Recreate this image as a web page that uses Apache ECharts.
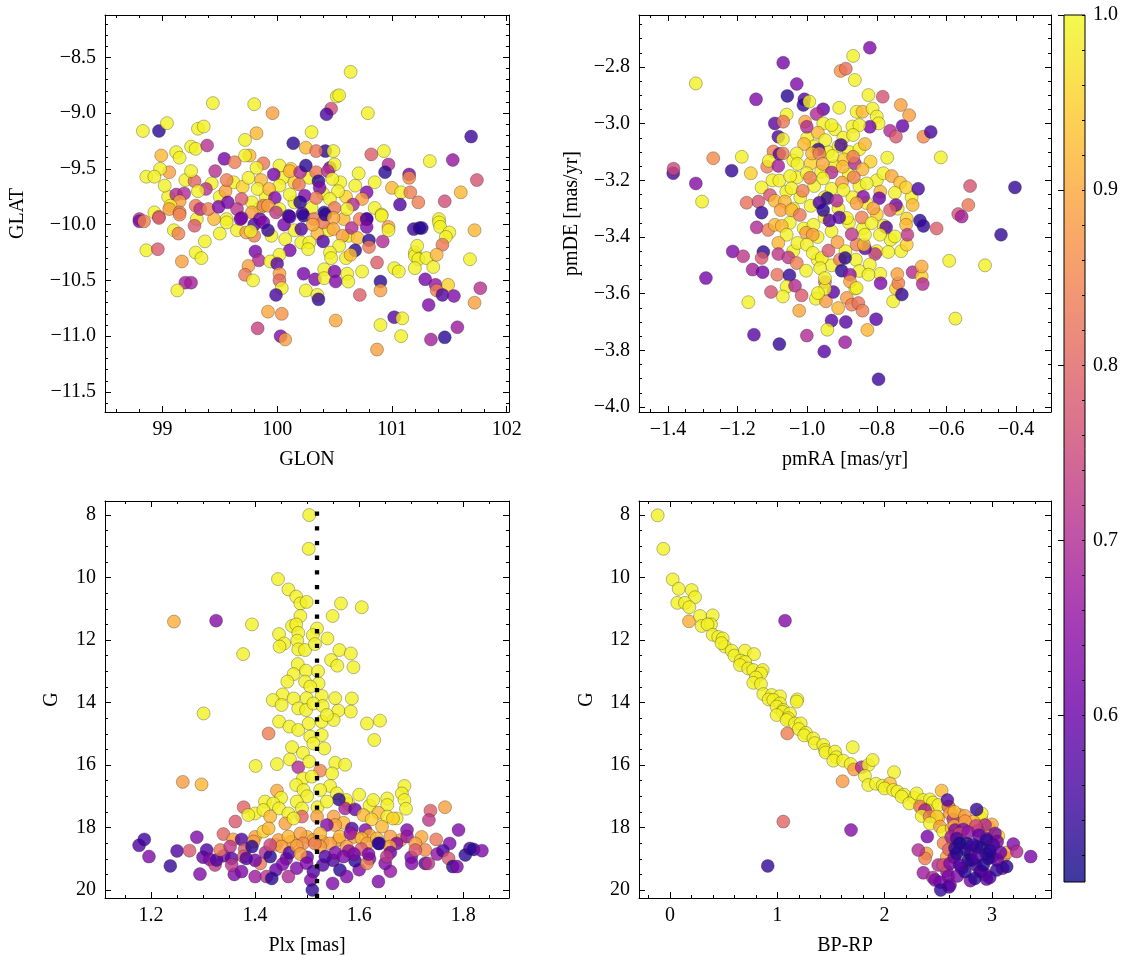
<!DOCTYPE html>
<html>
<head>
<meta charset="utf-8">
<script src="https://cdn.jsdelivr.net/npm/echarts@6/dist/echarts.min.js"></script>
<style>html,body{margin:0;padding:0;background:#fff;}#c{width:1133px;height:965px;}</style>
</head>
<body>
<div id="c"></div>
<script>
// ---------------- DATA: [x, y, membership probability] ----------------
const GLON_GLAT = [
[99.62,-9.62,0.99],[99.70,-9.66,0.95],[99.75,-9.58,0.99],[99.86,-9.60,0.92],[99.90,-9.75,0.99],[100.05,-9.58,0.99],
[100.15,-9.62,0.95],[100.28,-9.58,0.99],[100.40,-9.72,0.99],[100.55,-9.62,0.99],[100.60,-9.75,0.95],[100.68,-9.65,0.99],
[100.58,-9.95,0.92],[100.45,-10.05,0.99],[100.35,-10.08,0.92],[100.15,-10.05,0.99],[99.95,-10.10,0.99],[99.65,-10.05,0.99],
[99.50,-10.08,0.99],[99.45,-9.95,0.92],[99.50,-9.75,0.99],[99.85,-9.85,0.99],[100.15,-9.80,0.99],[100.30,-9.85,0.99],
[100.62,-10.10,0.99],[100.85,-9.85,0.99],[100.85,-9.62,0.99],[99.30,-9.95,0.99],[99.20,-9.60,0.99],[99.05,-9.75,0.99],
[100.64,-8.63,0.99],[100.52,-8.85,0.99],[100.54,-8.84,0.99],[100.47,-8.96,0.76],[100.43,-9.01,0.56],[100.79,-9.00,0.99],
[99.44,-8.91,0.99],[99.80,-8.92,0.99],[99.96,-9.00,0.89],[98.83,-9.16,0.99],[98.97,-9.16,0.53],[99.04,-9.09,0.99],
[99.31,-9.14,0.99],[99.36,-9.12,0.99],[99.82,-9.18,0.92],[100.30,-9.17,0.99],[99.72,-9.24,0.99],[100.14,-9.27,0.53],
[100.25,-9.31,0.92],[100.42,-9.34,0.53],[100.49,-9.34,0.99],[100.34,-9.34,0.83],[101.69,-9.21,0.55],[101.53,-9.42,0.66],
[101.33,-9.43,0.99],[101.74,-9.60,0.77],[100.93,-9.34,0.99],[100.82,-9.37,0.79],[100.97,-9.46,0.70],[100.94,-9.53,0.53],
[101.15,-9.55,0.62],[101.15,-9.58,0.86],[100.71,-9.54,0.99],[101.00,-9.67,0.92],[101.08,-9.71,0.99],[101.16,-9.71,0.84],
[101.23,-9.80,0.84],[101.07,-9.82,0.57],[101.46,-9.79,0.76],[101.60,-9.71,0.92],[101.41,-9.95,0.99],[100.91,-9.91,0.99],
[100.78,-9.71,0.63],[100.74,-9.77,0.89],[100.66,-9.82,0.70],[100.78,-9.95,0.57],[98.99,-9.38,0.92],[99.12,-9.35,0.99],
[99.15,-9.40,0.99],[99.25,-9.30,0.99],[99.29,-9.32,0.99],[99.39,-9.29,0.71],[99.54,-9.41,0.62],[99.63,-9.44,0.84],
[99.76,-9.38,0.92],[99.72,-9.38,0.99],[99.88,-9.45,0.83],[99.82,-9.49,0.99],[100.02,-9.47,0.99],[100.12,-9.50,0.95],
[100.11,-9.52,0.92],[99.97,-9.55,0.62],[100.20,-9.53,0.70],[100.25,-9.47,0.53],[100.34,-9.53,0.83],[100.46,-9.49,0.62],
[100.50,-9.46,0.99],[100.44,-9.52,0.71],[100.36,-9.61,0.53],[100.37,-9.67,0.63],[100.48,-9.59,0.99],[100.53,-9.70,0.99],
[100.19,-9.64,0.83],[100.02,-9.65,0.99],[99.83,-9.68,0.99],[99.93,-9.68,0.92],[100.11,-9.73,0.99],[100.24,-9.74,0.63],
[100.34,-9.76,0.83],[100.46,-9.77,0.99],[99.98,-9.76,0.63],[100.20,-9.80,0.53],[99.78,-9.80,0.99],[99.69,-9.77,0.78],
[99.55,-9.70,0.89],[99.56,-9.60,0.84],[99.46,-9.52,0.71],[99.43,-9.63,0.99],[99.38,-9.68,0.71],[99.28,-9.61,0.80],
[99.31,-9.70,0.99],[99.25,-9.52,0.99],[99.06,-9.53,0.89],[98.98,-9.50,0.99],[98.86,-9.57,0.99],[98.93,-9.57,0.99],
[99.02,-9.65,0.99],[99.12,-9.73,0.70],[99.19,-9.72,0.70],[99.15,-9.79,0.89],[99.07,-9.83,0.99],[99.29,-9.83,0.83],
[99.33,-9.86,0.71],[99.40,-9.86,0.84],[99.49,-9.84,0.63],[99.57,-9.80,0.62],[99.65,-9.86,0.72],[99.78,-9.89,0.89],
[99.88,-9.83,0.83],[99.92,-9.83,0.89],[100.02,-9.86,0.99],[100.10,-9.92,0.53],[100.22,-9.90,0.57],[100.41,-9.89,0.53],
[100.50,-9.85,0.83],[100.61,-9.86,0.99],[98.93,-9.89,0.99],[99.06,-9.86,0.89],[99.15,-9.89,0.84],[98.97,-9.93,0.83],
[98.80,-9.95,0.70],[99.56,-9.95,0.99],[99.69,-9.94,0.62],[99.85,-9.95,0.62],
[98.80,-9.97,0.63],[98.84,-9.97,0.85],[98.97,-9.94,0.78],[99.15,-9.91,0.85],[99.28,-10.01,0.78],[99.10,-10.05,0.99],
[99.14,-10.08,0.84],[99.37,-10.15,0.99],[98.86,-10.23,0.99],[98.96,-10.22,0.78],[99.29,-10.25,0.99],[99.34,-10.30,0.99],
[99.17,-10.33,0.89],[99.20,-10.52,0.68],[99.25,-10.52,0.68],[99.13,-10.59,0.99],[99.56,-9.98,0.99],[99.68,-9.95,0.62],
[99.80,-10.00,0.57],[99.88,-9.98,0.63],[99.92,-10.05,0.54],[99.73,-10.07,0.89],[99.80,-10.10,0.84],[99.77,-10.06,0.99],
[99.99,-9.89,0.72],[100.06,-10.00,0.62],[100.11,-9.93,0.57],[100.23,-9.92,0.53],[100.32,-9.95,0.83],[100.40,-9.98,0.83],
[100.42,-9.91,0.53],[100.49,-9.94,0.90],[100.21,-10.04,0.57],[100.31,-10.00,0.90],[100.49,-10.04,0.90],[100.57,-10.10,0.89],
[100.65,-10.03,0.70],[100.72,-9.95,0.84],[100.78,-9.95,0.57],[100.78,-10.02,0.63],[100.70,-10.12,0.93],[100.80,-10.14,0.53],
[100.80,-10.20,0.83],[100.92,-10.15,0.70],[100.91,-9.92,0.99],[100.97,-10.02,0.88],[100.97,-10.05,0.99],[100.07,-10.13,0.99],
[100.21,-10.16,0.99],[100.28,-10.16,0.99],[100.27,-10.22,0.99],[100.40,-10.15,0.57],[100.54,-10.19,0.99],[100.46,-10.25,0.99],
[100.47,-10.30,0.99],[100.60,-10.30,0.99],[100.68,-10.23,0.53],[100.64,-10.27,0.93],[100.11,-10.23,0.62],[100.02,-10.27,0.99],
[99.81,-10.24,0.62],[99.84,-10.32,0.70],[99.94,-10.33,0.99],[100.00,-10.35,0.58],[99.75,-10.37,0.89],[99.72,-10.45,0.83],
[99.79,-10.50,0.99],[100.02,-10.44,0.89],[100.02,-10.50,0.80],[100.04,-10.57,0.99],[99.99,-10.63,0.56],[100.23,-10.44,0.62],
[100.33,-10.49,0.63],[100.25,-10.59,0.99],[100.35,-10.63,0.99],[100.36,-10.67,0.54],[100.41,-10.40,0.99],[100.41,-10.48,0.99],
[100.50,-10.42,0.63],[100.51,-10.51,0.63],[100.61,-10.44,0.99],[100.62,-10.51,0.99],[100.74,-10.42,0.99],[100.87,-10.34,0.79],
[100.90,-10.51,0.53],[100.90,-10.59,0.89],[100.72,-10.63,0.79],[99.92,-10.78,0.90],[100.04,-10.80,0.87],[100.51,-10.86,0.90],
[99.83,-10.93,0.74],[100.03,-11.00,0.63],[100.07,-11.03,0.89],[101.02,-10.39,0.99],[101.06,-10.42,0.99],[101.20,-10.25,0.99],
[101.20,-10.28,0.99],[101.22,-10.19,0.99],[101.23,-10.31,0.99],[101.30,-10.30,0.99],[101.36,-10.38,0.99],[101.20,-10.39,0.99],
[101.19,-10.04,0.55],[101.24,-10.03,0.53],[101.26,-10.03,0.53],[101.41,-9.98,0.99],[101.42,-10.02,0.99],[101.50,-10.07,0.99],
[101.47,-10.11,0.99],[101.44,-10.18,0.83],[101.39,-10.27,0.92],[101.72,-10.05,0.92],[101.68,-10.31,0.99],[101.29,-10.49,0.62],
[101.38,-10.54,0.66],[101.39,-10.59,0.84],[101.49,-10.54,0.95],[101.44,-10.63,0.57],[101.54,-10.64,0.63],[101.77,-10.57,0.71],
[101.72,-10.70,0.89],[101.32,-10.72,0.63],[101.02,-10.83,0.58],[101.09,-10.84,0.99],[100.90,-10.90,0.99],[101.08,-11.00,0.99],
[101.34,-11.03,0.68],[101.46,-11.01,0.53],[101.57,-10.92,0.67],[100.87,-11.12,0.89]
];

const PMRA_PMDE = [
[-1.00,-3.05,0.99],[-0.98,-3.08,0.99],[-0.94,-3.10,0.99],[-0.91,-3.08,0.99],[-0.88,-3.10,0.99],[-0.85,-3.09,0.99],
[-1.04,-3.13,0.99],[-0.99,-3.14,0.95],[-0.96,-3.17,0.99],[-0.92,-3.15,0.99],[-0.88,-3.18,0.99],[-0.85,-3.22,0.99],
[-0.80,-3.20,0.99],[-0.79,-3.24,0.92],[-0.83,-3.28,0.99],[-0.87,-3.26,0.99],[-0.93,-3.23,0.99],[-0.98,-3.22,0.99],
[-1.02,-3.26,0.99],[-1.06,-3.24,0.99],[-1.10,-3.20,0.99],[-1.04,-3.30,0.99],[-0.99,-3.29,0.99],[-0.95,-3.33,0.99],
[-0.91,-3.30,0.99],[-0.88,-3.35,0.99],[-0.84,-3.37,0.99],[-0.80,-3.32,0.95],[-0.78,-3.36,0.99],[-0.76,-3.41,0.99],
[-0.80,-3.45,0.99],[-0.86,-3.48,0.99],[-0.93,-3.38,0.99],[-0.97,-3.40,0.99],[-1.01,-3.37,0.99],[-1.05,-3.35,0.99],
[-1.04,-3.45,0.99],[-0.97,-3.48,0.99],[-0.93,-3.50,0.99],[-0.89,-3.45,0.99],[-0.85,-3.52,0.99],[-0.79,-3.53,0.99],
[-0.73,-3.45,0.99],[-0.74,-3.30,0.99],[-0.70,-3.26,0.99],[-0.77,-3.12,0.99],[-0.92,-3.02,0.99],[-0.87,-3.01,0.99],
[-1.03,-3.19,0.99],[-0.95,-3.26,0.99],
[-0.820,-2.732,0.63],[-0.868,-2.761,0.99],[-1.069,-2.785,0.62],[-1.320,-2.858,0.99],[-0.904,-2.814,0.87],[-0.889,-2.806,0.82],
[-0.863,-2.846,0.99],[-1.030,-2.860,0.63],[-1.057,-2.902,0.53],[-1.147,-2.914,0.63],[-1.008,-2.914,0.58],[-1.011,-2.934,0.54],
[-0.994,-2.922,0.99],[-0.824,-2.899,0.99],[-0.783,-2.905,0.77],[-0.954,-2.949,0.60],[-0.973,-2.966,0.70],[-1.059,-2.968,0.99],
[-0.908,-2.944,0.99],[-0.858,-2.958,0.99],[-0.841,-2.958,0.92],[-0.812,-2.947,0.99],[-0.800,-2.975,0.99],[-0.795,-2.999,0.99],
[-0.731,-2.934,0.89],[-0.707,-2.970,0.89],[-0.726,-3.008,0.60],[-0.762,-3.025,0.70],[-0.745,-3.046,0.78],[-0.666,-3.046,0.86],
[-0.645,-3.029,0.56],[-0.616,-3.119,0.99],[-0.820,-3.011,0.62],[-0.850,-3.005,0.99],[-1.093,-2.999,0.58],[-1.069,-2.993,0.83],
[-1.083,-3.046,0.57],[-1.070,-3.055,0.99],[-1.006,-2.993,0.90],[-1.001,-3.011,0.70],[-0.954,-2.999,0.99],[-0.930,-3.005,0.99],
[-0.969,-3.032,0.92],[-0.948,-3.058,0.99],[-0.896,-3.049,0.99],[-0.868,-3.040,0.99],[-0.834,-3.072,0.92],[-0.903,-3.075,0.56],
[-0.968,-3.091,0.54],[-1.009,-3.072,0.92],[-1.030,-3.105,0.99],[-0.986,-3.105,0.92],[-0.965,-3.105,0.84],[-1.097,-3.098,0.84],
[-1.080,-3.107,0.58],[-1.070,-3.105,0.84],[-1.188,-3.117,0.99],[-1.270,-3.122,0.86],[-1.217,-3.166,0.54],[-1.385,-3.175,0.56],
[-1.384,-3.159,0.75],[-1.320,-3.211,0.64],[-1.302,-3.275,0.99],[-1.162,-3.175,0.95],[-1.131,-3.225,0.99],[-1.115,-3.152,0.84],
[-1.110,-3.131,0.99],[-1.083,-3.149,0.68],[-1.080,-3.201,0.99],[-1.049,-3.185,0.99],[-1.045,-3.228,0.99],[-1.013,-3.237,0.84],
[-1.028,-3.142,0.99],[-1.001,-3.175,0.99],[-0.992,-3.191,0.84],[-0.955,-3.142,0.90],[-0.930,-3.172,0.70],[-0.954,-3.193,0.99],
[-0.927,-3.114,0.99],[-0.894,-3.126,0.95],[-0.898,-3.152,0.92],[-0.863,-3.140,0.70],[-0.868,-3.117,0.84],[-0.818,-3.134,0.95],
[-0.841,-3.161,0.92],[-0.866,-3.189,0.84],[-0.900,-3.208,0.89],[-0.896,-3.234,0.99],[-0.829,-3.211,0.99],[-0.781,-3.175,0.99],
[-0.757,-3.185,0.90],[-0.733,-3.208,0.93],[-0.716,-3.225,0.95],[-0.748,-3.244,0.99],[-0.793,-3.263,0.60],[-0.839,-3.258,0.64],
[-0.942,-3.263,0.53],[-0.965,-3.279,0.57],[-0.915,-3.272,0.70],[-0.681,-3.230,0.56],[-0.532,-3.220,0.77],[-0.403,-3.225,0.54],
[-0.537,-3.287,0.83],[-0.697,-3.287,0.92],[-0.745,-3.287,0.62],[-0.762,-3.305,0.78],[-0.810,-3.299,0.89],[-0.858,-3.281,0.89],
[-1.174,-3.279,0.82],[-1.140,-3.275,0.77],[-1.107,-3.252,0.77],[-1.131,-3.314,0.54],[-1.093,-3.272,0.92],[-1.064,-3.275,0.92],
[-1.076,-3.305,0.89],[-1.045,-3.305,0.92],[-1.021,-3.322,0.83],[-0.954,-3.305,0.53],[-0.566,-3.319,0.77],[-0.556,-3.328,0.68],
[-0.676,-3.342,0.53],
[-1.145,-3.366,0.70],[-1.112,-3.375,0.84],[-1.093,-3.357,0.92],[-1.073,-3.361,0.92],[-1.059,-3.392,0.99],[-1.028,-3.421,0.99],
[-1.083,-3.421,0.92],[-1.126,-3.453,0.53],[-1.214,-3.451,0.63],[-1.184,-3.468,0.72],[-1.131,-3.474,0.78],[-1.083,-3.460,0.72],
[-1.054,-3.472,0.72],[-1.157,-3.515,0.68],[-1.128,-3.524,0.62],[-1.291,-3.545,0.62],[-1.086,-3.533,0.82],[-1.051,-3.535,0.54],
[-1.059,-3.575,0.99],[-1.035,-3.572,0.70],[-1.070,-3.610,0.99],[-1.104,-3.594,0.77],[-1.016,-3.606,0.78],[-1.169,-3.630,0.99],
[-1.023,-3.660,0.90],[-1.153,-3.745,0.58],[-1.080,-3.778,0.54],[-1.001,-3.748,0.70],[-0.951,-3.804,0.58],[-0.930,-3.695,0.58],
[-0.942,-3.727,0.99],[-0.889,-3.700,0.58],[-0.891,-3.771,0.67],[-0.802,-3.690,0.58],[-0.827,-3.728,0.92],[-0.795,-3.902,0.55],
[-0.975,-3.618,0.99],[-0.946,-3.627,0.88],[-0.911,-3.651,0.92],[-0.886,-3.615,0.88],[-0.872,-3.639,0.84],[-0.853,-3.633,0.82],
[-0.862,-3.582,0.99],[-0.925,-3.594,0.58],[-0.949,-3.559,0.80],[-0.949,-3.582,0.99],[-0.969,-3.598,0.99],[-0.789,-3.563,0.63],
[-0.753,-3.627,0.99],[-0.745,-3.582,0.95],[-0.738,-3.563,0.84],[-0.741,-3.531,0.89],[-0.728,-3.603,0.54],[-0.697,-3.524,0.70],
[-0.671,-3.539,0.95],[-0.671,-3.504,0.90],[-0.668,-3.566,0.70],[-0.592,-3.484,0.99],[-0.489,-3.500,0.99],[-0.574,-3.688,0.99],
[-0.443,-3.392,0.54],[-0.628,-3.370,0.79],[-0.666,-3.361,0.54],[-0.714,-3.335,0.95],[-0.716,-3.357,0.92],[-0.714,-3.427,0.95],
[-0.712,-3.392,0.72],[-0.748,-3.398,0.99],[-0.767,-3.453,0.99],[-0.773,-3.366,0.58],[-0.791,-3.392,0.99],[-0.805,-3.460,0.72],
[-0.820,-3.497,0.99],[-0.824,-3.533,0.99],[-0.834,-3.440,0.58],[-0.858,-3.427,0.84],[-0.837,-3.427,0.92],[-0.834,-3.392,0.99],
[-0.872,-3.390,0.72],[-0.886,-3.333,0.99],[-0.843,-3.331,0.84],[-0.815,-3.351,0.99],[-0.908,-3.331,0.58],[-0.936,-3.342,0.58],
[-0.982,-3.357,0.99],[-1.003,-3.385,0.89],[-0.984,-3.392,0.89],[-1.001,-3.427,0.99],[-0.984,-3.456,0.99],[-0.958,-3.474,0.99],
[-0.939,-3.448,0.78],[-0.913,-3.418,0.89],[-0.906,-3.480,0.84],[-0.891,-3.474,0.53],[-0.901,-3.519,0.53],[-0.877,-3.533,0.66],
[-0.877,-3.557,0.89],[-0.858,-3.580,0.99],[-1.030,-3.492,0.84],[-1.003,-3.519,0.99],[-0.963,-3.510,0.99],[-0.949,-3.545,0.99],
[-0.841,-3.660,0.84]
];

const PLX_G = [
[1.504,8.00,0.99],[1.503,9.08,0.99],[1.444,10.05,0.99],[1.464,10.38,0.99],[1.479,10.61,0.99],[1.487,10.83,0.99],
[1.499,10.78,0.99],[1.565,10.83,0.99],[1.605,10.95,0.99],[1.549,11.23,0.99],[1.487,11.23,0.99],[1.244,11.41,0.91],
[1.325,11.38,0.64],[1.394,11.50,0.99],[1.471,11.55,0.99],[1.479,11.50,0.99],[1.483,11.77,0.99],[1.519,11.63,0.99],
[1.511,11.84,0.99],[1.539,11.95,0.99],[1.446,11.81,0.99],[1.456,12.11,0.99],[1.447,12.21,0.99],[1.481,12.02,0.99],
[1.483,12.30,0.99],[1.496,12.32,0.99],[1.515,12.13,0.99],[1.562,12.32,0.99],[1.584,12.43,0.99],[1.377,12.45,0.99],
[1.546,12.64,0.99],[1.558,12.82,0.99],[1.589,12.87,0.99],[1.482,12.77,0.99],[1.474,13.09,0.99],[1.498,12.98,0.99],
[1.521,13.00,0.99],[1.462,13.33,0.99],[1.496,13.33,0.99],[1.522,13.39,0.99],[1.506,13.49,0.99],[1.453,13.74,0.99],
[1.434,13.92,0.99],[1.474,13.87,0.99],[1.499,13.86,0.99],[1.528,13.79,0.99],[1.554,13.86,0.99],[1.586,13.87,0.99],
[1.451,14.08,0.99],[1.483,14.19,0.99],[1.498,14.24,0.99],[1.512,14.03,0.99],[1.530,14.11,0.99],[1.560,14.26,0.99],
[1.584,14.29,0.99],[1.301,14.35,0.99],[1.446,14.61,0.99],[1.466,14.77,0.99],[1.483,14.88,0.99],[1.503,14.67,0.99],
[1.528,14.61,0.99],[1.551,14.56,0.99],[1.538,14.40,0.99],[1.615,14.67,0.99],[1.640,14.58,0.99],[1.629,15.20,0.99],
[1.426,14.99,0.84],[1.506,15.09,0.99],[1.528,15.04,0.99],[1.512,15.31,0.99],[1.533,15.47,0.99],[1.471,15.43,0.99],
[1.492,15.61,0.99],[1.467,15.82,0.99],[1.442,15.97,0.99],[1.401,16.03,0.99],[1.483,16.07,0.70],[1.504,15.89,0.99],
[1.525,16.18,0.85],[1.554,15.93,0.99],[1.573,15.99,0.99],[1.548,16.27,0.99],[1.492,16.43,0.99],[1.509,16.37,0.99],
[1.261,16.54,0.88],[1.297,16.62,0.92],[1.479,16.64,0.99],[1.544,16.67,0.99],[1.525,16.80,0.99],[1.493,16.80,0.99],
[1.442,16.82,0.90],[1.557,16.91,0.99],[1.687,16.67,0.99],[1.682,16.91,0.99],[1.687,17.12,0.99],[1.654,17.07,0.99],
[1.45,17.05,0.99],[1.50,17.00,0.99],[1.60,16.95,0.99],[1.62,17.30,0.99],[1.52,17.35,0.99],[1.40,17.55,0.99],
[1.69,17.40,0.99],[1.58,17.25,0.99],
[1.627,17.12,0.99],[1.654,17.28,0.99],[1.575,17.12,0.99],[1.561,17.10,0.53],[1.538,17.17,0.99],[1.480,17.17,0.99],
[1.419,17.17,0.99],[1.435,17.23,0.99],[1.378,17.35,0.80],[1.416,17.44,0.99],[1.446,17.39,0.99],[1.464,17.55,0.99],
[1.490,17.39,0.99],[1.490,17.65,0.80],[1.573,17.39,0.68],[1.592,17.42,0.60],[1.608,17.60,0.92],[1.637,17.53,0.92],
[1.624,17.74,0.95],[1.672,17.71,0.99],[1.654,17.65,0.99],[1.737,17.46,0.79],[1.765,17.35,0.89],[1.734,17.76,0.72],
[1.387,17.60,0.99],[1.429,17.65,0.92],[1.458,17.87,0.89],[1.474,17.71,0.99],[1.519,17.65,0.89],[1.551,17.65,0.89],
[1.570,17.85,0.92],[1.554,17.92,0.89],[1.538,17.92,0.63],[1.586,18.03,0.57],[1.612,18.08,0.63],[1.644,17.97,0.92],
[1.665,17.71,0.95],[1.692,18.08,0.63],[1.791,18.08,0.63],[1.748,18.38,0.83],[1.362,17.81,0.78],[1.339,18.21,0.80],
[1.40,18.30,0.89],[1.44,18.55,0.86],[1.47,18.45,0.89],[1.50,18.30,0.92],[1.53,18.45,0.89],[1.56,18.40,0.86],
[1.59,18.30,0.89],[1.62,18.25,0.90],[1.68,18.40,0.89],[1.72,18.30,0.90],
[1.358,18.38,0.89],[1.374,18.38,0.57],[1.397,18.45,0.89],[1.416,18.13,0.95],[1.426,18.03,0.92],[1.445,18.40,0.89],
[1.464,18.29,0.92],[1.487,18.19,0.89],[1.512,18.40,0.89],[1.525,18.19,0.92],[1.544,18.51,0.89],[1.563,18.29,0.92],
[1.583,18.19,0.66],[1.605,18.35,0.92],[1.615,18.51,0.89],[1.634,18.35,0.92],[1.639,18.51,0.57],[1.660,18.29,0.89],
[1.672,18.51,0.63],[1.692,18.29,0.66],[1.708,18.51,0.89],[1.727,18.72,0.86],[1.774,18.51,0.63],[1.410,19.15,0.83],
[1.451,18.61,0.89],[1.492,18.51,0.86],[1.525,18.61,0.89],[1.576,18.61,0.89],[1.604,18.69,0.78],[1.659,18.61,0.89],
[1.38,18.70,0.78],[1.42,18.80,0.70],[1.46,19.00,0.63],[1.50,18.95,0.60],[1.55,19.05,0.57],[1.58,18.75,0.66],
[1.62,19.00,0.63],[1.66,18.80,0.60],[1.70,18.95,0.63],[1.75,18.85,0.66],[1.34,18.90,0.63],[1.30,18.95,0.60],
[1.48,19.30,0.63],[1.53,19.20,0.57],[1.60,19.35,0.63],[1.66,19.40,0.66],[1.44,19.35,0.60],[1.40,19.05,0.62],
[1.36,19.50,0.63],[1.25,18.75,0.57],
[1.177,18.57,0.57],[1.187,18.38,0.55],[1.196,18.93,0.63],[1.237,19.23,0.54],[1.274,18.74,0.78],[1.288,18.31,0.63],
[1.294,19.49,0.63],[1.307,18.72,0.57],[1.313,19.02,0.63],[1.323,19.20,0.72],[1.326,19.04,0.57],[1.333,18.72,0.83],
[1.352,18.61,0.72],[1.355,18.99,0.58],[1.355,19.20,0.72],[1.378,18.93,0.78],[1.383,18.99,0.57],[1.394,18.61,0.53],
[1.374,19.41,0.63],[1.400,19.57,0.67],[1.422,19.57,0.72],[1.429,18.93,0.53],[1.429,18.56,0.75],[1.432,19.63,0.53],
[1.453,19.17,0.63],[1.464,19.57,0.70],[1.466,18.81,0.57],[1.480,18.59,0.89],[1.487,18.85,0.89],[1.499,19.14,0.63],
[1.512,19.41,0.57],[1.507,19.68,0.63],[1.510,20.00,0.54],[1.515,18.51,0.84],[1.535,18.93,0.57],[1.549,19.79,0.63],
[1.554,18.81,0.63],[1.563,19.36,0.53],[1.576,19.57,0.63],[1.570,18.93,0.63],[1.592,19.06,0.53],[1.590,18.85,0.63],
[1.615,19.15,0.84],[1.618,18.85,0.63],[1.637,18.51,0.53],[1.637,19.73,0.63],[1.650,19.15,0.63],[1.653,18.93,0.72],
[1.701,19.15,0.63],[1.708,18.72,0.78],[1.727,19.15,0.57],[1.733,19.15,0.72],[1.761,18.74,0.57],[1.772,18.99,0.78],
[1.780,19.25,0.53],[1.788,19.25,0.63],[1.804,18.88,0.53],[1.813,18.67,0.55],[1.820,18.70,0.53],[1.836,18.74,0.63]
];

const BPRP_G = [
[-0.115,8.01,0.99],[-0.062,9.08,0.99],[0.025,10.06,0.99],[0.081,10.36,0.99],[0.202,10.40,0.99],[0.233,10.63,0.99],
[0.068,10.81,0.99],[0.140,10.81,0.99],[0.180,10.95,0.99],[0.177,11.40,0.91],[1.072,11.38,0.64],[0.280,11.23,0.99],
[0.398,11.21,0.99],[0.295,11.55,0.99],[0.382,11.50,0.99],[0.350,11.50,0.99],[0.398,11.83,0.99],[0.450,11.90,0.99],
[0.491,11.95,0.99],[0.513,12.21,0.99],[0.480,12.10,0.99],[0.575,12.34,0.99],[0.600,12.50,0.99],[0.699,12.34,0.99],
[0.783,12.45,0.99],[0.659,12.66,0.99],[0.700,12.70,0.99],[0.652,12.80,0.99],[0.730,12.91,0.99],[0.776,12.96,0.99],
[0.864,12.96,0.99],[0.848,13.07,0.99],[0.800,13.20,0.99],[0.776,13.37,0.99],[0.848,13.41,0.99],[0.870,13.73,0.99],
[0.948,13.76,0.99],[1.025,13.80,0.99],[1.186,13.90,0.99],[0.920,13.90,0.99],[0.963,13.92,0.99],[1.025,14.03,0.99],
[0.994,14.13,0.99],[1.056,14.24,0.99],[1.050,14.30,0.99],[1.118,14.35,0.99],[1.181,13.97,0.99],[0.994,14.40,0.99],
[1.100,14.50,0.99],[1.087,14.56,0.99],[1.165,14.67,0.99],[1.218,14.67,0.99],[1.200,14.85,0.99],[1.267,14.97,0.99],
[1.250,15.05,0.99],[1.093,14.99,0.84],[1.336,15.15,0.99],[1.350,15.30,0.99],[1.429,15.36,0.99],[1.445,15.52,0.99],
[1.450,15.60,0.99],[1.538,15.57,0.99],[1.550,15.75,0.99],[1.703,15.43,0.99],[1.522,15.86,0.99],[1.615,15.86,0.99],
[1.684,15.97,0.99],[1.715,16.14,0.88],[1.787,16.07,0.70],[1.848,16.00,0.99],[1.889,15.84,0.99],[1.817,16.35,0.99],
[1.848,16.64,0.99],[1.609,16.52,0.88],[1.920,16.60,0.99],[2.088,16.23,0.99],[1.982,16.66,0.99],[2.050,16.59,0.93],
[2.000,16.75,0.99],[2.081,16.80,0.99],[2.120,16.85,0.99],[2.180,16.95,0.99],[2.159,17.01,0.99],[2.280,17.05,0.99],
[2.230,17.23,0.99],[2.299,16.91,0.99],[2.361,17.12,0.99],[2.423,17.10,0.99],[2.450,17.20,0.99],[2.350,17.40,0.98],
[2.501,17.28,0.99],[2.532,16.82,0.92],[2.400,17.45,0.96],[2.600,17.35,0.90],[2.500,17.70,0.93],[2.700,17.60,0.92],
[2.900,17.70,0.95],[2.330,17.33,0.84],[2.377,17.44,0.68],[2.346,17.63,0.99],[2.420,17.65,0.84],[2.486,17.65,0.95],
[2.594,17.33,0.84],[2.610,17.55,0.89],[2.640,17.74,0.71],[2.650,17.50,0.92],[2.749,17.63,0.89],[2.905,17.55,0.99],
[2.827,17.81,0.92],[2.970,18.00,0.95],[2.423,17.87,0.99],[2.516,17.97,0.89],[2.547,18.13,0.99],[2.625,18.03,0.92],
[2.650,17.95,0.90],[2.750,17.80,0.88],[3.000,17.90,0.90],[3.060,18.27,0.95],[2.550,18.50,0.85],[2.390,18.83,0.89],
[2.377,18.99,0.84],[2.580,18.93,0.89],[2.640,18.45,0.89],[3.110,18.93,0.84],[3.140,18.80,0.89],[2.600,18.70,0.80],
[2.585,17.12,0.57],[2.858,17.42,0.54],[2.936,17.92,0.70],[2.656,18.08,0.63],[2.734,18.06,0.63],[2.870,18.10,0.71],
[3.029,18.19,0.63],[2.398,18.29,0.62],[2.850,17.95,0.75],[2.620,18.30,0.68],[2.700,18.20,0.75],[2.780,18.15,0.66],
[2.880,18.25,0.60],[2.950,18.35,0.65],[3.050,18.45,0.62],[2.314,18.72,0.70],[2.361,19.45,0.67],[2.500,19.20,0.70],
[2.580,19.40,0.66],[2.450,19.60,0.70],[2.547,19.20,0.77],[2.610,19.15,0.63],[2.594,19.57,0.63],[2.610,19.84,0.63],
[2.470,19.68,0.63],[2.520,19.75,0.62],[2.600,19.90,0.58],[3.200,18.53,0.63],[3.231,18.77,0.70],[3.362,18.93,0.62],
[2.650,18.95,0.62],[2.720,19.30,0.60],[2.680,19.55,0.63],[2.800,19.70,0.62],[2.950,19.65,0.60],[3.100,19.30,0.64],
[2.890,19.41,0.63],[2.940,19.50,0.63],[2.800,18.85,0.63],[1.056,17.81,0.80],[1.687,18.08,0.64],[0.911,19.23,0.54],
[2.672,18.35,0.57],[2.765,18.51,0.52],[2.858,18.61,0.52],[2.951,18.40,0.53],[3.013,18.56,0.57],[2.700,18.50,0.52],
[2.750,18.70,0.53],[2.820,18.55,0.55],[2.900,18.65,0.53],[2.950,18.85,0.54],[3.000,18.95,0.57],[2.780,19.05,0.52],
[2.850,19.20,0.56],[2.900,19.40,0.58],[3.050,19.05,0.62],[3.080,18.80,0.60],[2.672,18.83,0.53],[2.656,18.67,0.53],
[2.812,19.04,0.53],[2.967,18.99,0.53],[2.749,19.41,0.53],[2.842,19.63,0.53],[2.860,18.93,0.57],[2.980,18.75,0.53],
[2.920,19.20,0.53],[2.700,19.20,0.57],[2.980,19.60,0.57],[3.138,19.25,0.53],[3.045,19.36,0.54],[2.523,20.00,0.54]
];

// tick positions and axis ranges
const GLON_TICKS = [99, 100, 101, 102];
const GLAT_TICKS = [-11.5, -11.0, -10.5, -10.0, -9.5, -9.0, -8.5];
const PMRA_TICKS = [-1.4, -1.2, -1.0, -0.8, -0.6, -0.4];
const PMDE_TICKS = [-4.0, -3.8, -3.6, -3.4, -3.2, -3.0, -2.8];
const PLX_TICKS = [1.2, 1.4, 1.6, 1.8];
const G_TICKS = [8, 10, 12, 14, 16, 18, 20];
const BPRP_TICKS = [0, 1, 2, 3];
const CBAR_TICKS = [0.6, 0.7, 0.8, 0.9, 1.0];
const PLX_MEAN = 1.519;
const P_MIN = 0.505, P_MAX = 1.0;

const PLASMA = ['#0d0887','#41049d','#6a00a8','#8f0da4','#b12a90','#cc4778','#e16462','#f2844b','#fca636','#fcce25','#f0f921'];

// ---------------- helpers ----------------
const FONT = 'Liberation Serif';
const FS = 20;
function steps(min, max, step) {
  const out = [];
  for (let i = Math.ceil(min / step - 1e-9); i * step <= max + 1e-9; i++) out.push(+(i * step).toFixed(6));
  return out;
}
const minus = s => s.replace('-', '\u2212');
const f0 = v => minus(String(Math.round(v)));
const f1 = v => minus((+v).toFixed(1));

const xAxes = [], yAxes = [];
function addAxes(dim, gridIndex, c) {
  const list = dim === 'x' ? xAxes : yAxes;
  const sides = dim === 'x' ? ['bottom', 'top'] : ['left', 'right'];
  const minors = steps(c.min, c.max, c.minor);
  const mk = (pos, major, labels, line) => ({
    type: 'value', gridIndex, min: c.min, max: c.max, inverse: !!c.inverse, position: pos, offset: 0,
    splitLine: { show: false },
    axisLine: { show: line, onZero: false, lineStyle: { color: '#000', width: 1 } },
    axisTick: { show: true, inside: true, length: major ? 6 : 3, customValues: major ? c.majors : minors,
                lineStyle: { color: '#000', width: 1 } },
    axisLabel: labels ? { show: true, customValues: c.majors, formatter: c.fmt, fontFamily: FONT, fontSize: FS,
                          color: '#000', margin: dim === 'x' ? 8 : 9 } : { show: false },
    name: labels ? c.name : '', nameLocation: 'middle', nameGap: c.nameGap, nameRotate: dim === 'y' ? 90 : 0,
    nameTextStyle: { fontFamily: FONT, fontSize: FS, color: '#000' }
  });
  const first = list.length;
  list.push(mk(sides[0], true, true, true), mk(sides[0], false, false, false),
            mk(sides[1], true, false, true), mk(sides[1], false, false, false));
  return first;
}

const grids = [
  { left: 105, top: 15, width: 404, height: 397 },
  { left: 639, top: 15, width: 412, height: 397 },
  { left: 105, top: 501, width: 404, height: 397 },
  { left: 639, top: 501, width: 412, height: 397 }
].map(g => Object.assign(g, { containLabel: false, outerBoundsMode: 'none' }));

const x0 = addAxes('x', 0, { min: 98.5, max: 102.02, majors: GLON_TICKS, minor: 0.2, fmt: f0, name: 'GLON', nameGap: 38 });
const y0 = addAxes('y', 0, { min: -11.68, max: -8.12, majors: GLAT_TICKS, minor: 0.1, fmt: f1, name: 'GLAT', nameGap: 77 });
const x1 = addAxes('x', 1, { min: -1.4833, max: -0.2994, majors: PMRA_TICKS, minor: 0.05, fmt: f1, name: 'pmRA [mas/yr]', nameGap: 38 });
const y1 = addAxes('y', 1, { min: -4.0176, max: -2.6165, majors: PMDE_TICKS, minor: 0.05, fmt: f1, name: 'pmDE [mas/yr]', nameGap: 57 });
const x2 = addAxes('x', 2, { min: 1.1115, max: 1.888, majors: PLX_TICKS, minor: 0.05, fmt: f1, name: 'Plx [mas]', nameGap: 38 });
const y2 = addAxes('y', 2, { min: 7.55, max: 20.256, majors: G_TICKS, minor: 0.5, fmt: f0, name: 'G', nameGap: 43, inverse: true });
const x3 = addAxes('x', 3, { min: -0.289, max: 3.551, majors: BPRP_TICKS, minor: 0.2, fmt: f0, name: 'BP-RP', nameGap: 38 });
const y3 = addAxes('y', 3, { min: 7.55, max: 20.256, majors: G_TICKS, minor: 0.5, fmt: f0, name: 'G', nameGap: 42, inverse: true });

// colorbar grid + axis
const rgba = (hex, a) => `rgba(${parseInt(hex.slice(1,3),16)},${parseInt(hex.slice(3,5),16)},${parseInt(hex.slice(5,7),16)},${a})`;
const cbStops = PLASMA.map((c, i) => ({ offset: 1 - i / (PLASMA.length - 1), color: rgba(c, 0.8) })).reverse();
grids.push({ left: 1064, top: 15, width: 21, height: 867, show: true, containLabel: false, outerBoundsMode: 'none',
  backgroundColor: new echarts.graphic.LinearGradient(0, 0, 0, 1, cbStops), borderColor: '#000', borderWidth: 1 });
xAxes.push({ type: 'value', gridIndex: 4, show: false, min: 0, max: 1 });
const cbMinor = steps(P_MIN, P_MAX, 0.02);
yAxes.push({ type: 'value', gridIndex: 4, position: 'right', min: P_MIN, max: P_MAX, splitLine: { show: false },
  axisLine: { show: false }, axisTick: { show: true, inside: true, length: 6, customValues: CBAR_TICKS, lineStyle: { color: '#000', width: 1 } },
  axisLabel: { show: true, customValues: CBAR_TICKS, formatter: f1, fontFamily: FONT, fontSize: FS, color: '#000', margin: 8 } });
yAxes.push({ type: 'value', gridIndex: 4, position: 'right', min: P_MIN, max: P_MAX, splitLine: { show: false },
  axisLine: { show: false }, axisTick: { show: true, inside: true, length: 3, customValues: cbMinor, lineStyle: { color: '#000', width: 1 } },
  axisLabel: { show: false } });

const scat = (data, xi, yi) => ({
  type: 'scatter', data, xAxisIndex: xi, yAxisIndex: yi, symbol: 'circle', symbolSize: 13,
  itemStyle: { opacity: 0.8, borderColor: '#222', borderWidth: 0.4 }, emphasis: { disabled: true }, silent: true
});

const chart = echarts.init(document.getElementById('c'), null, { renderer: 'canvas' });
chart.setOption({
  backgroundColor: '#fff',
  animation: false,
  grid: grids,
  xAxis: xAxes,
  yAxis: yAxes,
  visualMap: { type: 'continuous', show: false, min: P_MIN, max: P_MAX, dimension: 2, seriesIndex: [0, 1, 2, 3],
               inRange: { color: PLASMA } },
  series: [
    scat(GLON_GLAT, x0, y0),
    scat(PMRA_PMDE, x1, y1),
    scat(PLX_G, x2, y2),
    scat(BPRP_G, x3, y3),
    { type: 'line', xAxisIndex: x2, yAxisIndex: y2, data: [[PLX_MEAN, 20.256], [PLX_MEAN, 7.55]], symbol: 'none', z: 10,
      silent: true, lineStyle: { color: '#000', width: 4.3, type: [4.3, 10.4], cap: 'butt' } }
  ]
});
</script>
</body>
</html>
